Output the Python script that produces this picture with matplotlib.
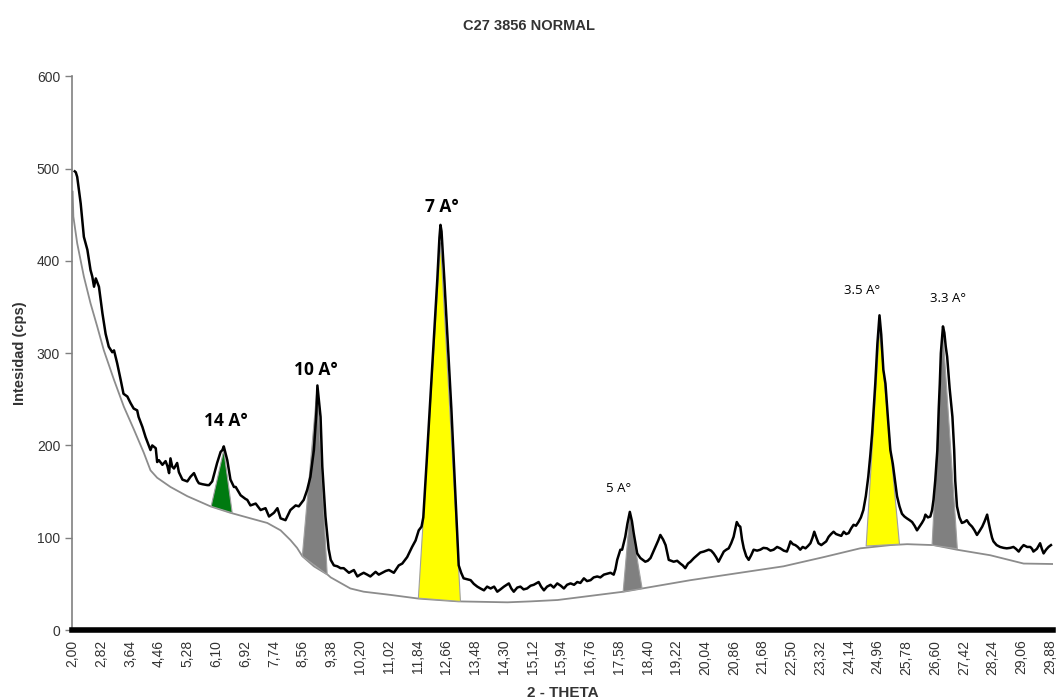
import matplotlib.pyplot as plt

# measured pattern (2-theta, cps)
theta = [2.06, 2.09, 2.13, 2.23, 2.32, 2.42, 2.51, 2.56, 2.61, 2.66, 2.75, 2.85, 2.94, 3.03, 3.13, 3.18,
         3.27, 3.37, 3.45, 3.56, 3.65, 3.74, 3.84, 3.88, 3.99, 4.08, 4.18, 4.22, 4.27, 4.37, 4.41, 4.46,
         4.56, 4.65, 4.70, 4.75, 4.79, 4.84, 4.89, 4.98, 5.03, 5.13, 5.27, 5.36, 5.46, 5.55, 5.60, 5.70,
         5.84, 5.89, 5.98, 6.12, 6.22, 6.27, 6.31, 6.41, 6.50, 6.60, 6.65, 6.79, 6.93, 6.98, 7.07, 7.22,
         7.36, 7.50, 7.60, 7.74, 7.84, 7.93, 8.07, 8.21, 8.36, 8.45, 8.59, 8.69, 8.78, 8.88, 8.95, 8.98,
         9.02, 9.07, 9.12, 9.21, 9.30, 9.36, 9.45, 9.55, 9.64, 9.73, 9.88, 10.02, 10.12, 10.20, 10.30,
         10.40, 10.49, 10.64, 10.73, 10.83, 10.93, 11.02, 11.16, 11.30, 11.40, 11.54, 11.68, 11.78, 11.87,
         11.95, 12.00, 12.10, 12.20, 12.30, 12.40, 12.46, 12.49, 12.52, 12.60, 12.70, 12.80, 12.90, 12.97,
         13.01, 13.08, 13.15, 13.25, 13.35, 13.44, 13.54, 13.63, 13.73, 13.82, 13.92, 14.02, 14.11, 14.20,
         14.30, 14.44, 14.51, 14.58, 14.68, 14.77, 14.86, 14.96, 15.06, 15.15, 15.29, 15.36, 15.44, 15.53,
         15.63, 15.72, 15.82, 15.92, 16.01, 16.10, 16.20, 16.30, 16.39, 16.48, 16.58, 16.67, 16.77, 16.86,
         16.96, 17.05, 17.15, 17.25, 17.34, 17.43, 17.48, 17.53, 17.62, 17.67, 17.76, 17.82, 17.89, 17.95,
         18.00, 18.10, 18.19, 18.33, 18.40, 18.48, 18.55, 18.62, 18.70, 18.76, 18.84, 18.91, 19.00, 19.07,
         19.14, 19.24, 19.33, 19.40, 19.47, 19.55, 19.62, 19.72, 19.81, 19.90, 20.00, 20.07, 20.14, 20.21,
         20.28, 20.35, 20.42, 20.50, 20.57, 20.64, 20.71, 20.78, 20.85, 20.90, 20.94, 21.00, 21.04, 21.09,
         21.14, 21.21, 21.28, 21.35, 21.42, 21.52, 21.61, 21.70, 21.80, 21.90, 21.99, 22.09, 22.18, 22.28,
         22.37, 22.42, 22.47, 22.54, 22.61, 22.68, 22.75, 22.82, 22.90, 22.97, 23.04, 23.10, 23.15, 23.21,
         23.27, 23.35, 23.42, 23.49, 23.56, 23.63, 23.70, 23.77, 23.84, 23.92, 23.99, 24.06, 24.13, 24.20,
         24.27, 24.34, 24.41, 24.48, 24.55, 24.62, 24.69, 24.75, 24.80, 24.89, 24.95, 25.01, 25.06, 25.12,
         25.18, 25.25, 25.32, 25.39, 25.46, 25.51, 25.58, 25.65, 25.72, 25.79, 25.87, 25.94, 26.01, 26.08,
         26.15, 26.22, 26.28, 26.32, 26.39, 26.46, 26.51, 26.55, 26.60, 26.66, 26.70, 26.73, 26.76, 26.80,
         26.82, 26.86, 26.90, 26.94, 27.01, 27.09, 27.14, 27.17, 27.22, 27.29, 27.36, 27.43, 27.50, 27.57,
         27.65, 27.72, 27.79, 27.86, 27.94, 28.01, 28.08, 28.12, 28.17, 28.22, 28.26, 28.35, 28.45, 28.55,
         28.64, 28.74, 28.83, 28.90, 28.98, 29.05, 29.12, 29.22, 29.31, 29.36, 29.40, 29.50, 29.59, 29.64,
         29.69, 29.76, 29.83, 29.90]
cps = [497, 496, 491, 462, 426, 412, 390, 383, 372, 381, 372, 343, 321, 307, 301, 303,
       289, 271, 256, 253, 246, 240, 238, 231, 220, 209, 199, 195, 200, 197, 182, 184,
       179, 183, 178, 170, 186, 177, 175, 181, 171, 163, 161, 166, 170, 162, 159, 158,
       157, 157, 161, 181, 193, 195, 199, 184, 163, 155, 155, 146, 142, 141, 135, 137,
       130, 132, 123, 127, 132, 121, 119, 130, 135, 134, 141, 152, 166, 195, 235, 265,
       250, 231, 177, 123, 88, 76, 70, 69, 67, 67, 62, 65, 58, 60, 62,
       60, 58, 63, 60, 62, 64, 65, 62, 70, 72, 79, 90, 97, 108,
       112, 122, 185, 250, 315, 380, 425, 439, 432, 380, 310, 240, 160, 105,
       70, 62, 56, 55, 54, 50, 47, 45, 43, 47, 45, 47, 41.5, 44,
       47, 50.5, 45, 41.5, 46, 47, 44, 45, 48, 49, 52, 47, 43, 47,
       49, 46, 50.5, 48, 45, 49, 50.5, 49, 52, 51, 56, 53, 54, 57,
       58, 57, 60, 61, 62, 60, 66, 76, 87, 87, 101, 115, 128, 118,
       105, 83, 78, 74, 75, 78, 84, 90, 97, 103, 98, 92, 76, 75,
       74, 75, 72, 70, 67, 72, 74, 78, 81, 84, 85, 86, 87, 86,
       83, 79, 74, 80, 85, 87, 88.5, 94, 101, 110, 117, 113, 112, 98,
       88.5, 80, 76, 81, 87, 86, 87, 89, 88.5, 86, 87, 90, 88.5, 86,
       85, 90, 96, 93, 92, 90, 87, 90, 88.5, 91, 94, 100, 106.5, 100,
       94, 92, 94, 96, 101, 104, 106.5, 104, 103, 102, 106.5, 104, 105, 110,
       114, 113, 117, 122, 130, 145, 166, 190, 213, 267, 310, 341, 320, 282,
       267, 230, 195, 180, 160, 145, 134, 126, 123, 121, 119, 117, 113, 108,
       112, 116, 120, 125, 122, 123, 130, 141, 162, 195, 240, 267, 300, 320,
       329, 322, 307, 296, 262, 231, 195, 162, 134, 122, 116, 117, 119, 115,
       112, 108, 103, 107, 112, 118, 125, 117, 108, 100, 96, 92, 90, 89,
       88.5, 89, 90, 88, 85, 89, 92, 90, 90, 88, 85, 88, 94, 88,
       83, 87, 90, 92]

# fitted background
bg_theta = [2.00, 2.02, 2.13, 2.32, 2.51, 2.70, 2.89, 3.18, 3.46, 3.75, 4.03, 4.22, 4.41, 4.79, 5.27,
            5.93, 6.50, 7.07, 7.55, 7.93, 8.21, 8.40, 8.55, 8.88, 9.27, 9.36, 9.92, 10.30, 11.07, 11.87,
            13.00, 14.40, 15.06, 15.83, 17.71, 19.62, 22.27, 23.42, 24.46, 25.32, 25.80, 26.55, 27.22,
            28.17, 29.12, 29.97]
bg_cps = [475, 448, 419, 383, 354, 329, 303, 271, 242, 217, 192, 173, 165, 155, 145,
          134, 127, 121, 116, 108, 97.5, 89, 80, 69, 60, 57, 45, 41.5, 38, 34,
          31, 30, 31, 32.5, 41.5, 54, 69, 79, 88.5, 92, 93, 92, 87,
          81, 72, 71.5]

# peak areas: (left, apex, right) in 2-theta / cps
peaks_theta = [(5.95, 6.31, 6.55), (8.55, 8.97, 9.26), (11.86, 12.49, 13.06),
               (17.70, 17.89, 18.24), (24.63, 25.01, 25.58), (26.51, 26.82, 27.23)]
peaks_cps = [(134, 195, 127), (80, 262, 60), (34.5, 420, 31),
             (41.5, 125, 45), (91, 325, 93), (92, 322, 88)]
peak_colors = ['#007a10', '#808080', '#ffff00', '#808080', '#ffff00', '#808080']

labels = ['14 A°', '10 A°', '7 A°', '5 A°', '3.5 A°', '3.3 A°']
label_x = [6.36, 8.93, 12.52, 17.57, 24.52, 26.95]
label_y = [226, 282, 458, 153, 368, 359]
label_bold = [True, True, True, False, False, False]

tick_vals = [2.00 + 0.82 * i for i in range(35)]

fig = plt.figure(figsize=(10.58, 7.0), dpi=100)
ax = fig.add_axes([0.068, 0.1, 0.927, 0.791])

ax.plot(bg_theta, bg_cps, color='#8c8c8c', lw=1.3, zorder=2)
for pt, pc, c in zip(peaks_theta, peaks_cps, peak_colors):
    ax.fill(pt, pc, facecolor=c, edgecolor='#a0a0a0', lw=0.8, zorder=3)
ax.plot(theta, cps, color='black', lw=1.8, zorder=4)

for t, x, y, b in zip(labels, label_x, label_y, label_bold):
    ax.text(x, y, t, ha='center', va='center', family='Open Sans',
            fontsize=12.5 if b else 9.5, fontweight='bold' if b else 'normal')

ax.set_xlim(1.98, 29.95)
ax.set_ylim(0, 600)
ax.set_yticks([0, 100, 200, 300, 400, 500, 600])
ax.set_xticks(tick_vals)
ax.set_xticklabels([('%.2f' % v).replace('.', ',') for v in tick_vals], rotation=90,
                   family='Liberation Sans')
ax.tick_params(axis='x', length=0, pad=7, labelsize=10, labelcolor='#333333')
ax.tick_params(axis='y', length=5, width=1, color='#808080', labelsize=10, labelcolor='#333333')
for lab in ax.get_yticklabels():
    lab.set_family('Liberation Sans')

ax.spines['top'].set_visible(False)
ax.spines['right'].set_visible(False)
ax.spines['left'].set_color('#808080')
ax.spines['left'].set_linewidth(1.2)
ax.spines['bottom'].set_color('black')
ax.spines['bottom'].set_linewidth(4)

ax.set_ylabel('Intesidad (cps)', family='Liberation Sans', fontweight='bold', fontsize=10.5,
              color='#333333', labelpad=7)
ax.set_xlabel('2 - THETA', family='Liberation Sans', fontweight='bold', fontsize=11,
              color='#333333', labelpad=8)
fig.text(0.5, 0.963, 'C27 3856 NORMAL', ha='center', va='center', family='Liberation Sans',
         fontweight='bold', fontsize=10.5, color='#333333')

fig.savefig('out.png', dpi=100)
